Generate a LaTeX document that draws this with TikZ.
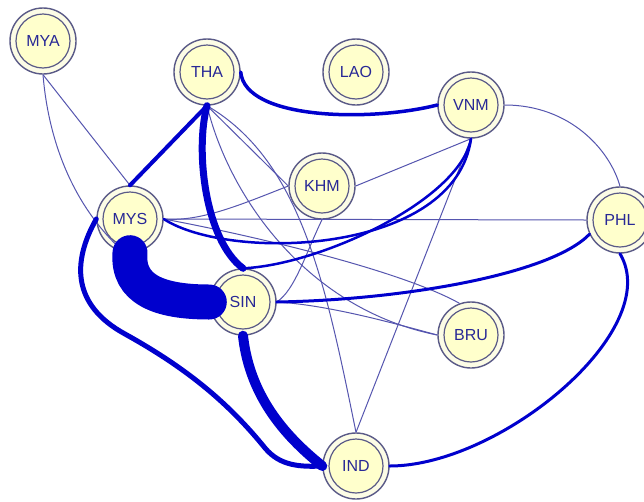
\documentclass[tikz,border=0pt]{standalone}
\usepackage{fontspec}
\setmainfont{Liberation Sans}
\definecolor{ring}{RGB}{90,90,135}
\definecolor{outerfill}{RGB}{252,252,230}
\definecolor{innerfill}{RGB}{255,255,204}
\definecolor{txt}{RGB}{40,40,150}
\definecolor{thickcol}{RGB}{0,0,205}
\definecolor{thincol}{RGB}{85,85,175}
\begin{document}
\begin{tikzpicture}[x=1pt,y=-1pt,
  country/.style={circle, draw=ring, line width=1.4pt, fill=outerfill,
    minimum size=66pt, inner sep=0pt, text=txt,
    font=\fontsize{16}{16}\selectfont,
    path picture={\draw[ring, fill=innerfill, line width=1.2pt]
      (path picture bounding box.center) circle (27pt);}},
  thinedge/.style={draw=thincol, line width=1pt},
  wedge/.style={draw=thickcol, line cap=round}]
\useasboundingbox (0,0) rectangle (644,501);
\fill[white] (0,0) rectangle (644,501);
% nodes
\node[country] (MYA) at (43,41) {MYA};
\node[country] (THA) at (207,72) {THA};
\node[country] (LAO) at (356,72) {LAO};
\node[country] (VNM) at (471,105) {VNM};
\node[country] (KHM) at (322,186) {KHM};
\node[country] (MYS) at (130,219) {MYS};
\node[country] (PHL) at (620,220) {PHL};
\node[country] (SIN) at (243,302) {SIN};
\node[country] (BRU) at (471,335) {BRU};
\node[country] (IND) at (356,466) {IND};
% thin edges
\draw[thinedge] (MYA.south) -- (MYS.north);
\draw[thinedge] (MYA.south) .. controls (50,160) and (90,260) .. (SIN.west);
\draw[thinedge] (THA.south) -- (KHM.west);
\draw[thinedge] (THA.south) .. controls (300,160) and (325,280) .. (IND.north);
\draw[thinedge] (THA.south) .. controls (230,200) and (310,310) .. (BRU.west);
\draw[thinedge] (MYS.east) .. controls (250,235) and (400,270) .. (BRU.110);
\draw[thinedge] (SIN.east) .. controls (330,305) and (400,325) .. (BRU.west);
\draw[thinedge] (KHM.west) .. controls (240,205) and (200,222) .. (MYS.east);
\draw[thinedge] (KHM.south) .. controls (305,255) and (295,290) .. (SIN.east);
\draw[thinedge] (KHM.east) -- (VNM.south);
\draw[thinedge] (VNM.south) -- (IND.north);
\draw[thinedge] (VNM.east) .. controls (570,105) and (610,150) .. (PHL.north);
\draw[thinedge] (MYS.east) -- (PHL.west);
% thick edges
\draw[wedge, line width=35pt] (MYS.south) .. controls (127,290) and (160,302) .. (SIN.west);
\draw[wedge, line width=10pt] (SIN.south) .. controls (250,400) and (290,440) .. (IND.west);
\draw[wedge, line width=7pt] (THA.south) .. controls (195,150) and (205,240) .. (SIN.north);
\draw[wedge, line width=5pt] (MYS.west) .. controls (72,262) and (72,305) .. (125,334)
   .. controls (190,370) and (230,405) .. (265,448)
   .. controls (280,466) and (300,467) .. (IND.west);
\draw[wedge, line width=4pt] (THA.south) -- (MYS.north);
\draw[wedge, line width=3.5pt] (THA.east) .. controls (245,120) and (370,122) .. (VNM.west);
\draw[wedge, line width=2.5pt] (MYS.east) .. controls (230,262) and (455,255) .. (VNM.south);
\draw[wedge, line width=2.5pt] (SIN.north) .. controls (320,265) and (460,200) .. (VNM.south);
\draw[wedge, line width=3pt] (SIN.east) .. controls (400,300) and (550,275) .. (PHL.205);
\draw[wedge, line width=3pt] (IND.east) .. controls (500,466) and (665,330) .. (PHL.south);
\end{tikzpicture}
\end{document}
